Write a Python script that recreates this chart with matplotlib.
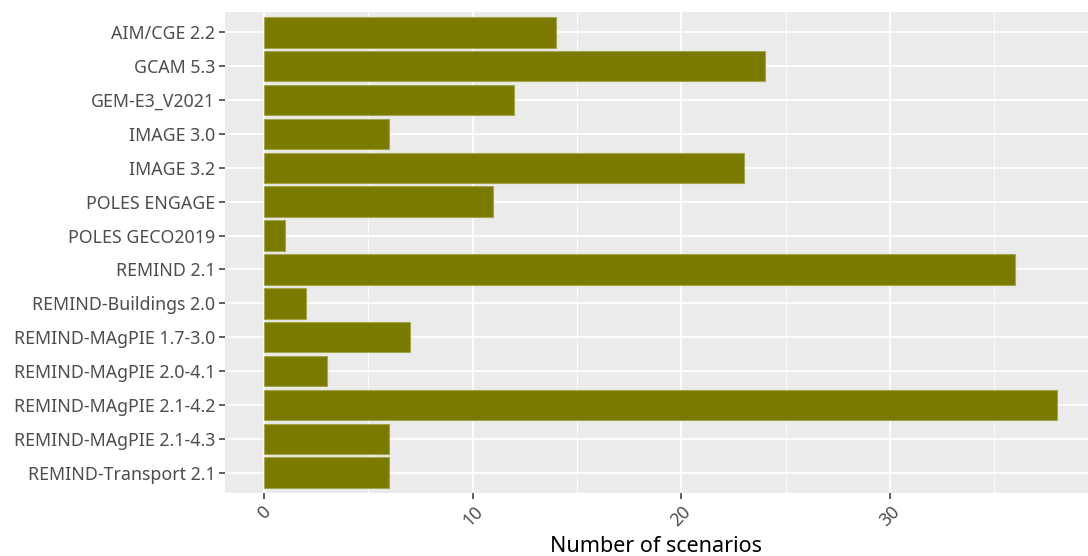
import matplotlib
matplotlib.use("Agg")
import matplotlib.pyplot as plt
from matplotlib.ticker import MultipleLocator

models = ["AIM/CGE 2.2", "GCAM 5.3", "GEM-E3_V2021", "IMAGE 3.0", "IMAGE 3.2",
          "POLES ENGAGE", "POLES GECO2019", "REMIND 2.1", "REMIND-Buildings 2.0",
          "REMIND-MAgPIE 1.7-3.0", "REMIND-MAgPIE 2.0-4.1", "REMIND-MAgPIE 2.1-4.2",
          "REMIND-MAgPIE 2.1-4.3", "REMIND-Transport 2.1"]
counts = [14, 24, 12, 6, 23, 11, 1, 36, 2, 7, 3, 38, 6, 6]
xticks = [0, 10, 20, 30]

plt.rcParams['font.family'] = ['Noto Sans', 'DejaVu Sans']
W, H = 1088, 556
fig = plt.figure(figsize=(W/100, H/100), dpi=100)
left, right, top, bottom = 225, 1088, 12, 493
ax = fig.add_axes([left/W, 1-bottom/H, (right-left)/W, (bottom-top)/H])
ax.set_facecolor('#EBEBEB')

n = len(models)
ypos = list(range(n))
ax.barh(ypos, counts, height=0.9, color='#7A7A00', edgecolor='#A5A54D', linewidth=0.8, zorder=3)
ax.set_ylim(n - 1 + 0.6, -0.6)
ax.set_xlim(-1.87, 39.5)
ax.set_yticks(ypos)
ax.set_yticklabels(models)
ax.set_xticks(xticks)
ax.set_xticklabels([str(t) for t in xticks], rotation=45)
ax.xaxis.set_minor_locator(MultipleLocator(5))
ax.grid(which='major', color='white', linewidth=1.3, zorder=0)
ax.grid(which='minor', axis='x', color='white', linewidth=0.6, zorder=0)
ax.set_axisbelow(True)
for s in ax.spines.values():
    s.set_visible(False)
ax.tick_params(axis='both', which='major', length=4, width=1.1, color='#333333',
               labelcolor='#4D4D4D', labelsize=12.8, pad=3)
ax.tick_params(axis='x', which='minor', length=0)
for lab in ax.get_xticklabels():
    lab.set_ha('center')
    lab.set_va('top')
ax.set_xlabel('Number of scenarios', fontsize=15.5, color='black', labelpad=4)

fig.savefig('out.png', dpi=100)
